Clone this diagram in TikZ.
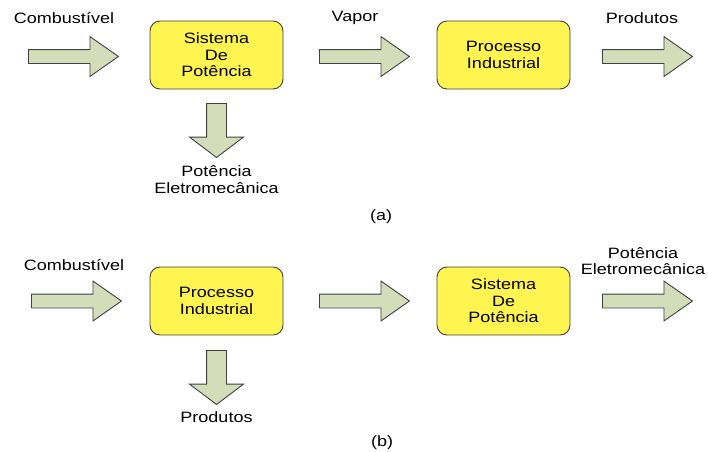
\documentclass[tikz,border=0pt]{standalone}
\usepackage{fontspec}
\setmainfont{Liberation Sans}[FakeStretch=1.2]
\usepackage{tikz}
\usetikzlibrary{shapes.arrows}
\definecolor{amarelo}{HTML}{FFF450}
\definecolor{verdecinza}{HTML}{D4DDB9}
\definecolor{contorno}{HTML}{404040}

\begin{document}
\begin{tikzpicture}[
  x=1pt, y=-1pt,
  font=\fontsize{15}{16.5}\selectfont,
  bloco/.style={rectangle, draw=contorno, line width=0.9pt, rounded corners=10pt,
                fill=amarelo, minimum width=133pt, minimum height=68pt, align=center},
  seta/.style={single arrow, draw=contorno, line width=0.9pt, fill=verdecinza,
               inner xsep=0pt, inner ysep=6.5pt, minimum height=90pt,
               single arrow head extend=13pt, single arrow tip angle=70, anchor=tail},
  setab/.style={single arrow, draw=contorno, line width=0.9pt, fill=verdecinza,
                inner xsep=0pt, inner ysep=9.5pt, minimum height=54pt,
                single arrow head extend=17pt, single arrow tip angle=106,
                anchor=tail, rotate=-90},
  rot/.style={align=center, inner sep=0pt}
]
  \useasboundingbox (0,0) rectangle (708,451);

  % (a)
  \node[rot] (la1) at (64,18) {Combustível};
  \node[seta] (a1) at (28,56.5) {};
  \node[bloco] (sp1) at (216.5,55) {Sistema\\De\\Potência};
  \node[setab] (a2) at (216.5,103) {};
  \node[rot] (la2) at (216.5,179.5) {Potência\\Eletromecânica};
  \node[rot] (la3) at (355,18) {Vapor};
  \node[seta] (a3) at (319,56.5) {};
  \node[bloco] (pi1) at (503.5,55) {Processo\\Industrial};
  \node[rot] (la4) at (642,18) {Produtos};
  \node[seta] (a4) at (602,56.5) {};
  \node[rot] (capa) at (381,217) {(a)};

  % (b)
  \node[rot] (lb1) at (74,265) {Combustível};
  \node[seta] (b1) at (31,301) {};
  \node[bloco] (pi2) at (216.5,301) {Processo\\Industrial};
  \node[setab] (b2) at (216.5,350) {};
  \node[rot] (lb2) at (216.5,417) {Produtos};
  \node[seta] (b3) at (319,301) {};
  \node[bloco] (sp2) at (503.5,301) {Sistema\\De\\Potência};
  \node[rot] (lb3) at (643,261) {Potência\\Eletromecânica};
  \node[seta] (b4) at (602,301) {};
  \node[rot] (capb) at (382,443) {(b)};
\end{tikzpicture}
\end{document}
